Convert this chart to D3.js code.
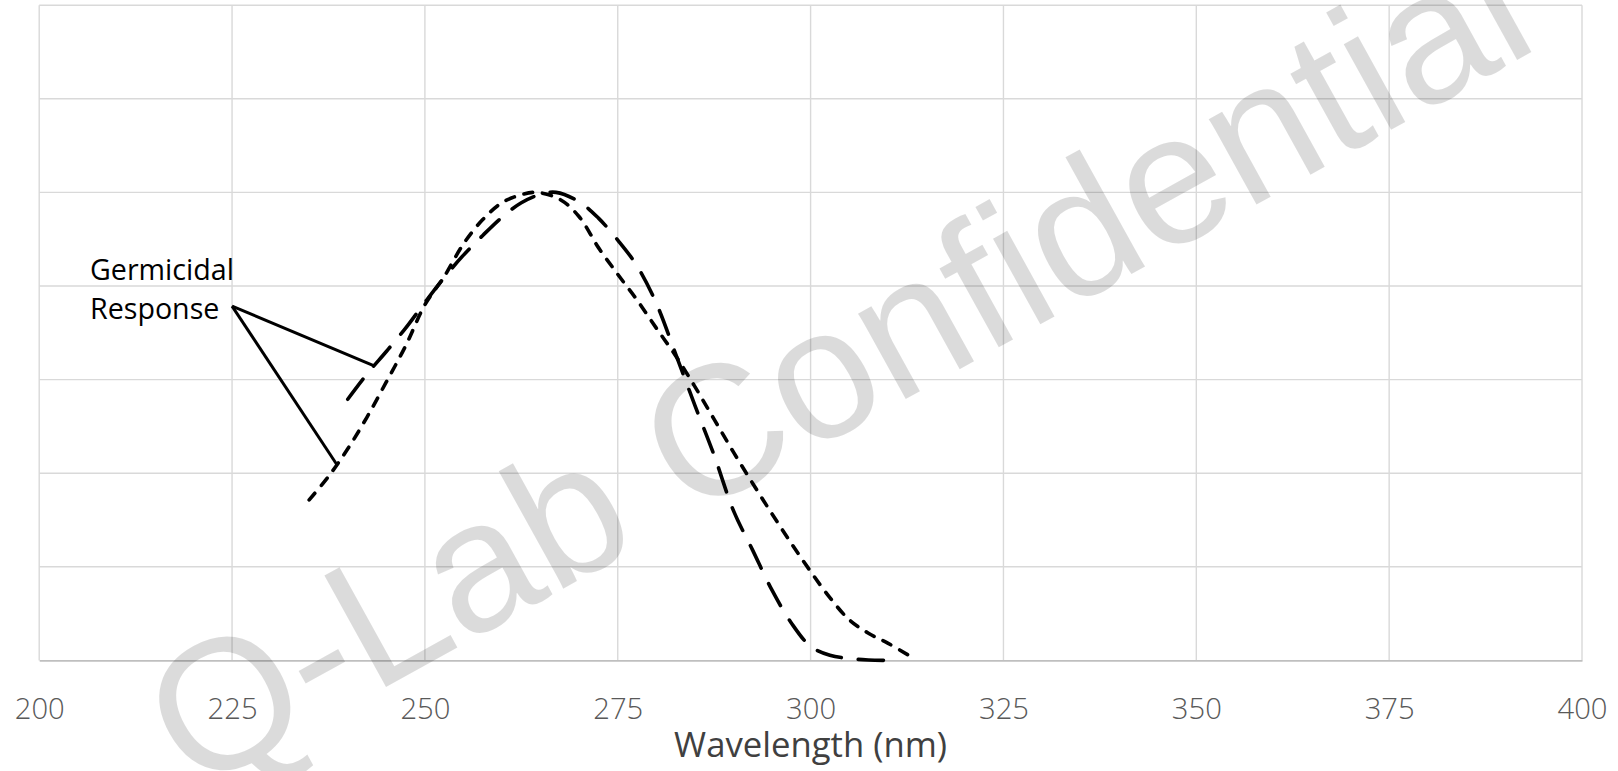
<!DOCTYPE html>
<html>
<head>
<meta charset="utf-8">
<script src="https://cdn.jsdelivr.net/npm/d3@7"></script>
<style>
  html, body { margin: 0; padding: 0; background: #fff; }
  svg { display: block; }
</style>
</head>
<body>
<svg id="chart" width="1618" height="771"></svg>
<script>
// ---------------- DATA ----------------
const xTicks = [200, 225, 250, 275, 300, 325, 350, 375, 400];
const yTicks = [0, 0.2, 0.4, 0.6, 0.8, 1.0, 1.2, 1.4];

// Long-dashed curve
const longDashLambda = [240, 242.5, 245, 247.5, 250, 252.5, 255, 257.5, 260, 262.5, 265, 267, 270, 272.5, 275, 277.5, 280, 282.5, 285, 287.5, 290, 292.5, 295, 297.5, 300, 302.5, 305, 307.5, 310];
const longDashValue  = [0.558, 0.612, 0.660, 0.710, 0.765, 0.818, 0.866, 0.908, 0.947, 0.978, 0.996, 1.000, 0.980, 0.945, 0.898, 0.843, 0.763, 0.655, 0.545, 0.438, 0.320, 0.235, 0.150, 0.080, 0.030, 0.011, 0.004, 0.001, 0.000];

// Short-dashed curve
const shortDashLambda = [235, 237.5, 240, 242.5, 245, 247.5, 250, 252.5, 255, 257.5, 260, 262.5, 264.5, 267.5, 270, 272.5, 275, 277.5, 280, 282.5, 285, 287.5, 290, 292.5, 295, 297.5, 300, 302.5, 305, 307.5, 310, 313];
const shortDashValue  = [0.343, 0.393, 0.452, 0.520, 0.595, 0.672, 0.760, 0.820, 0.890, 0.942, 0.978, 0.995, 1.000, 0.985, 0.948, 0.882, 0.825, 0.770, 0.710, 0.651, 0.585, 0.515, 0.445, 0.378, 0.313, 0.250, 0.190, 0.134, 0.087, 0.058, 0.037, 0.008];

// Annotation
const annotationText = ["Germicidal", "Response"];
const annotationAnchor = [225, 0.757];            // [nm, value]
const annotationTargets = [[243.5, 0.629], [238.6, 0.418]];

const xTitle = "Wavelength (nm)";
const watermarkText = "Q-Lab Confidential";

// ---------------- LAYOUT ----------------
const plot = { left: 39.2, right: 1582, top: 5.2, bottom: 660.4 };

const svg = d3.select("#chart");
const x = d3.scaleLinear().domain([200, 400]).range([plot.left, plot.right]);
const y = d3.scaleLinear().domain([0, 1.4]).range([plot.bottom, plot.top]);

const FONT = "'Open Sans', 'Noto Sans', 'DejaVu Sans', sans-serif";

function fitSize(text, family, weight, targetWidth) {
  const t = svg.append("text").attr("font-family", family).attr("font-weight", weight)
    .attr("font-size", 100).text(text);
  const w = t.node().getComputedTextLength();
  t.remove();
  return 100 * targetWidth / w;
}

// ---------------- GRID ----------------
const grid = svg.append("g");
grid.selectAll("line.v").data(xTicks).enter().append("line")
  .attr("x1", d => x(d)).attr("x2", d => x(d))
  .attr("y1", y(1.4)).attr("y2", y(0))
  .attr("stroke", "#d9d9d9").attr("stroke-width", 1.4);
grid.selectAll("line.h").data(yTicks.filter(d => d > 0)).enter().append("line")
  .attr("x1", x(200)).attr("x2", x(400))
  .attr("y1", d => y(d)).attr("y2", d => y(d))
  .attr("stroke", "#d9d9d9").attr("stroke-width", 1.4);

// x axis
const xAxis = d3.axisBottom(x).tickValues(xTicks).tickSize(0).tickPadding(0).tickFormat(d3.format("d"));
const gx = svg.append("g").attr("transform", `translate(0,${y(0)})`).call(xAxis);
gx.select(".domain").attr("stroke", "#bfbfbf").attr("stroke-width", 1.7);
const tickSize = fitSize("250", FONT, 300, 50);
gx.selectAll(".tick text")
  .attr("font-family", FONT).attr("font-weight", 300).attr("font-size", tickSize)
  .attr("fill", "#595959").attr("dy", null).attr("y", 719.3 - y(0));

// x title
const titleSize = fitSize(xTitle, FONT, 400, 273);
svg.append("text").attr("x", (plot.left + plot.right) / 2).attr("y", 757.3)
  .attr("text-anchor", "middle").attr("font-family", FONT).attr("font-size", titleSize)
  .attr("fill", "#404040").text(xTitle);

// ---------------- CURVES ----------------
const line = d3.line().x(d => x(d[0])).y(d => y(d[1])).curve(d3.curveCatmullRom.alpha(0.5));
const longData = longDashLambda.map((l, i) => [l, longDashValue[i]]);
const shortData = shortDashLambda.map((l, i) => [l, shortDashValue[i]]);

svg.append("path").datum(longData).attr("d", line)
  .attr("fill", "none").attr("stroke", "#000").attr("stroke-width", 3.6)
  .attr("stroke-linecap", "round").attr("stroke-dasharray", "25,17");
svg.append("path").datum(shortData).attr("d", line)
  .attr("fill", "none").attr("stroke", "#000").attr("stroke-width", 3.6)
  .attr("stroke-linecap", "round").attr("stroke-dasharray", "9,10");

// ---------------- ANNOTATION ----------------
svg.selectAll("line.ann").data(annotationTargets).enter().append("line")
  .attr("x1", x(annotationAnchor[0])).attr("y1", y(annotationAnchor[1]))
  .attr("x2", d => x(d[0])).attr("y2", d => y(d[1]))
  .attr("stroke", "#000").attr("stroke-width", 3);
const annSize = fitSize(annotationText[0], FONT, 400, 144);
svg.selectAll("text.ann").data(annotationText).enter().append("text")
  .attr("x", 90).attr("y", (d, i) => 280 + i * 39.3)
  .attr("font-family", FONT).attr("font-size", annSize).attr("fill", "#000")
  .text(d => d);

// ---------------- WATERMARK ----------------
svg.append("text")
  .attr("transform", "translate(193,794) rotate(-29)")
  .attr("font-family", "'Liberation Sans', Arial, sans-serif")
  .attr("font-size", 185)
  .attr("fill", "#000").attr("fill-opacity", 0.14)
  .text(watermarkText);
</script>
</body>
</html>
